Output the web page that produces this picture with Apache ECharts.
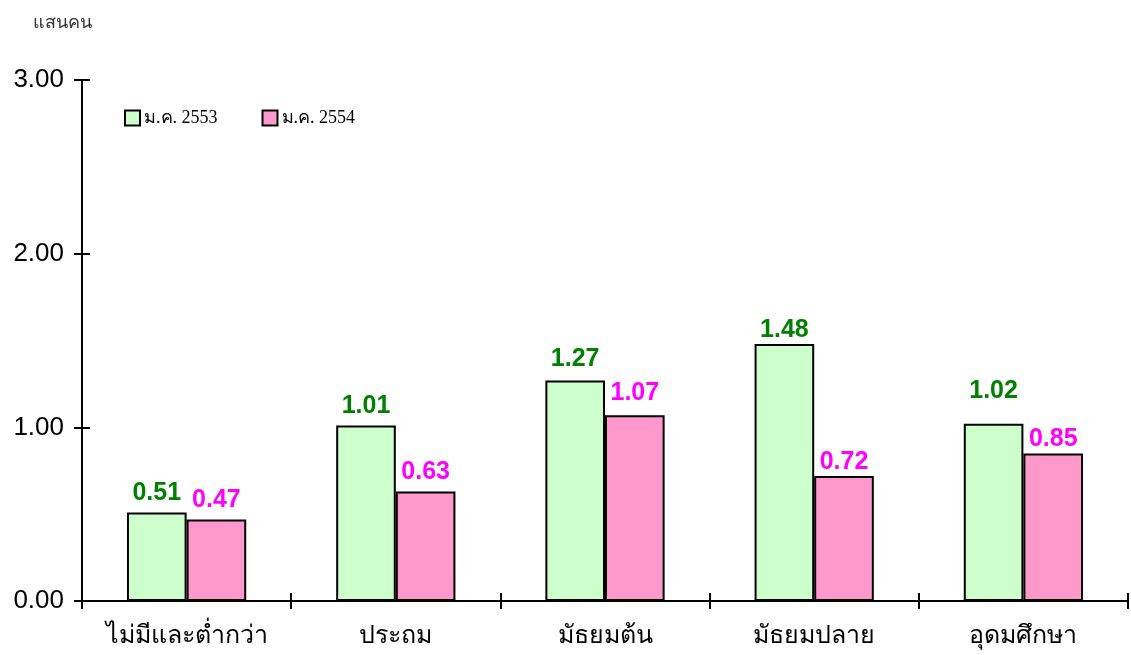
<!DOCTYPE html>
<html>
<head>
<meta charset="utf-8">
<script src="https://cdn.jsdelivr.net/npm/echarts@6/dist/echarts.min.js"></script>
<style>
  html, body { margin: 0; padding: 0; background: #fff; }
  #chart { width: 1131px; height: 655px; }
</style>
</head>
<body>
<div id="chart"></div>
<script>
// ข้อมูล
const categories = ["ไม่มีและต่ำกว่า", "ประถม", "มัธยมต้น", "มัธยมปลาย", "อุดมศึกษา"];
const seriesNames = ["ม.ค. 2553", "ม.ค. 2554"];
const values2553 = [0.51, 1.01, 1.27, 1.48, 1.02];
const values2554 = [0.47, 0.63, 1.07, 0.72, 0.85];
const yTicks = [0, 1, 2, 3];

// extra lift for labels (px), like the original layout
const lift2553 = [0, 0, 2, -6, 13];
const lift2554 = [0, 0, 3, -6, -5];

const chart = echarts.init(document.getElementById("chart"));

function makeData(vals, lifts) {
  return vals.map((v, i) => ({
    value: v,
    label: { offset: [0, -lifts[i]] },
  }));
}

const axisLine = { lineStyle: { color: "#000", width: 2 } };
const tickStyle = { color: "#000", width: 2 };
const hiddenLine = { show: true, lineStyle: { color: "rgba(0,0,0,0)", width: 0 } };

chart.setOption({
  animation: false,
  grid: { left: 82, right: 3, top: 80, bottom: 54 },
  title: {
    text: "แสนคน",
    left: 28,
    top: 9,
    textStyle: { fontSize: 18, fontWeight: "normal", color: "#333", fontFamily: "Noto Sans, sans-serif" },
  },
  legend: {
    data: seriesNames,
    left: 119,
    top: 104,
    itemWidth: 15,
    itemHeight: 15,
    itemGap: 44,
    icon: "rect",
    itemStyle: { borderColor: "#000", borderWidth: 2 },
    textStyle: { fontSize: 18, color: "#000", fontFamily: "Liberation Serif, serif", padding: [2, 0, 0, -1] },
  },
  xAxis: [
    {
      type: "category",
      data: categories,
      axisLine: axisLine,
      axisTick: { show: true, length: 8, lineStyle: tickStyle },
      axisLabel: { interval: 0, fontSize: 25, color: "#000", margin: 22, fontFamily: "Noto Sans, sans-serif" },
    },
    {
      // inner half of the crossing ticks
      type: "category",
      data: categories,
      position: "bottom",
      offset: 0,
      axisLine: hiddenLine,
      axisTick: { show: true, inside: true, length: 8, lineStyle: tickStyle },
      axisLabel: { show: false },
    },
  ],
  yAxis: [
    {
      type: "value",
      min: yTicks[0],
      max: yTicks[yTicks.length - 1],
      interval: 1,
      axisLine: { show: true, ...axisLine },
      axisTick: { show: true, length: 8, lineStyle: tickStyle },
      splitLine: { show: false },
      axisLabel: {
        fontSize: 26,
        color: "#000",
        margin: 18,
        fontFamily: "Liberation Sans, Arial, sans-serif",
        formatter: (v) => v.toFixed(2),
      },
    },
    {
      type: "value",
      min: yTicks[0],
      max: yTicks[yTicks.length - 1],
      interval: 1,
      position: "left",
      offset: 0,
      axisLine: hiddenLine,
      axisTick: { show: true, inside: true, length: 8, lineStyle: tickStyle },
      splitLine: { show: false },
      axisLabel: { show: false },
    },
  ],
  series: [
    {
      name: seriesNames[0],
      type: "bar",
      data: makeData(values2553, lift2553),
      barGap: "0%",
      barCategoryGap: "43%",
      itemStyle: { color: "#CCFFCC", borderColor: "#000", borderWidth: 2 },
      label: {
        show: true,
        position: "top",
        distance: 7,
        color: "#008000",
        fontSize: 25,
        fontWeight: "bold",
        fontFamily: "Liberation Sans, Arial, sans-serif",
        formatter: (p) => p.value.toFixed(2),
      },
    },
    {
      name: seriesNames[1],
      type: "bar",
      data: makeData(values2554, lift2554),
      barGap: "0%",
      barCategoryGap: "43%",
      itemStyle: { color: "#FF99CC", borderColor: "#000", borderWidth: 2 },
      label: {
        show: true,
        position: "top",
        distance: 7,
        color: "#FF00FF",
        fontSize: 25,
        fontWeight: "bold",
        fontFamily: "Liberation Sans, Arial, sans-serif",
        formatter: (p) => p.value.toFixed(2),
      },
    },
    {
      // empty series so the secondary axes get drawn
      type: "line",
      xAxisIndex: 1,
      yAxisIndex: 1,
      data: [],
      silent: true,
    },
  ],
});

window.addEventListener("resize", () => chart.resize());
</script>
</body>
</html>
